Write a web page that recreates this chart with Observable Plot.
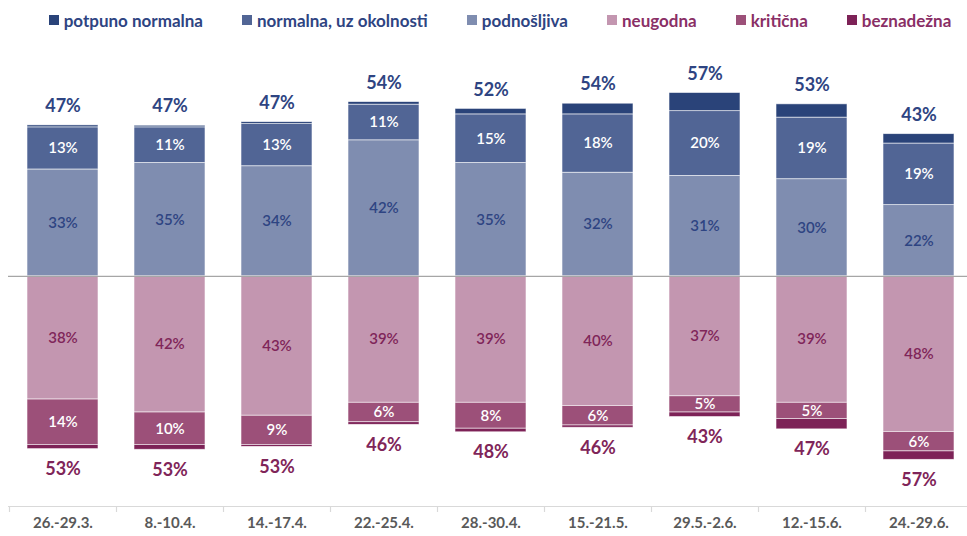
<!DOCTYPE html>
<html>
<head>
<meta charset="utf-8">
<script src="https://cdn.jsdelivr.net/npm/d3@7"></script>
<script src="https://cdn.jsdelivr.net/npm/@observablehq/plot@0.6"></script>
<style>
  body { margin: 0; background: #fff; }
  #legend { height: 40px; display: flex; align-items: center; justify-content: center; gap: 39px; font: bold 17px Lato, sans-serif; padding-left: 33px; box-sizing: border-box; width: 967px; }
  #legend span { display: inline-flex; align-items: center; white-space: nowrap; }
  #legend i { display: inline-block; width: 10px; height: 10px; margin-right: 5px; }
</style>
</head>
<body>
<div id="legend"></div>
<div id="chart"></div>
<script>
const periods = ["26.-29.3.", "8.-10.4.", "14.-17.4.", "22.-25.4.", "28.-30.4.", "15.-21.5.", "29.5.-2.6.", "12.-15.6.", "24.-29.6."];
const seriesNames = ["potpuno normalna", "normalna, uz okolnosti", "podnošljiva", "neugodna", "kritična", "beznadežna"];
const seriesColors = ["#2a4379", "#516595", "#7f8db0", "#c396b0", "#9c5079", "#7d2257"];
const legendTextColors = ["#2e4482", "#2e4482", "#2e4482", "#8a2f66", "#8a2f66", "#8a2f66"];

const potpuno     = [0.6, 0.5, 0.6, 0.8, 1.7, 3.3, 5.6, 4.1, 2.9];
const normalna    = [13, 11, 13, 11, 15, 18, 20, 19, 19];
const podnosljiva = [33, 35, 34, 42, 35, 32, 31, 30, 22];
const neugodna    = [38, 42, 43, 39, 39, 40, 37, 39, 48];
const kriticna    = [14, 10, 9, 6, 8, 6, 5, 5, 6];
const beznadezna  = [1.3, 1.5, 0.6, 0.8, 1.1, 0.7, 1.4, 3.2, 2.6];

const totalPos = [47, 47, 47, 54, 52, 54, 57, 53, 43];
const totalNeg = [53, 53, 53, 46, 48, 46, 43, 47, 57];

// legend
const legend = document.getElementById("legend");
seriesNames.forEach((n, i) => {
  const s = document.createElement("span");
  s.style.color = legendTextColors[i];
  s.innerHTML = `<i style="background:${seriesColors[i]}"></i>${n}`;
  legend.appendChild(s);
});

// long table: stacking order outward from zero
const rows = [];
periods.forEach((p, i) => {
  rows.push({period: p, series: "podnošljiva", v: podnosljiva[i], label: podnosljiva[i]});
  rows.push({period: p, series: "normalna, uz okolnosti", v: normalna[i], label: normalna[i]});
  rows.push({period: p, series: "potpuno normalna", v: potpuno[i], label: null});
  rows.push({period: p, series: "neugodna", v: -neugodna[i], label: neugodna[i]});
  rows.push({period: p, series: "kritična", v: -kriticna[i], label: kriticna[i]});
  rows.push({period: p, series: "beznadežna", v: -beznadezna[i], label: null});
});
const totals = periods.map((p, i) => ({
  period: p,
  pos: podnosljiva[i] + normalna[i] + potpuno[i],
  neg: -(neugodna[i] + kriticna[i] + beznadezna[i]),
  posLabel: totalPos[i] + "%",
  negLabel: totalNeg[i] + "%"
}));

const W = 967;
const xRange = [8.8, 971.8];
const step = (xRange[1] - xRange[0]) / periods.length;
const yMin = -71;
const tickLen = 6 / 3.24;

const labelFor = (names) => d => names.includes(d.series) && d.label != null ? d.label + "%" : null;

const chart = Plot.plot({
  width: W,
  height: 496,
  marginTop: 0,
  marginBottom: 30,
  marginLeft: 8,
  marginRight: 0,
  style: {fontFamily: "Lato, sans-serif", fontSize: "15px", fontWeight: "bold", color: "#595959", background: "white"},
  x: {domain: periods, range: xRange, paddingInner: 0.334, paddingOuter: 0.167, tickSize: 0, tickPadding: 11, label: null},
  y: {domain: [yMin, 72.8], axis: null},
  color: {domain: seriesNames, range: seriesColors, legend: false},
  marks: [
    Plot.ruleY([yMin], {stroke: "#d9d9d9", strokeWidth: 1.2}),
    Plot.ruleX(periods, {x: d => d, dx: -step / 2, y1: yMin, y2: yMin - tickLen, stroke: "#d9d9d9", strokeWidth: 1.2}),
    Plot.barY(rows, Plot.stackY({x: "period", y: "v", fill: "series", stroke: "white", strokeWidth: 0.8, strokeOpacity: 0.7})),
    Plot.ruleY([0], {stroke: "#a6a6a6", strokeWidth: 1.2}),
    Plot.text(rows, Plot.stackY({x: "period", y: "v", text: labelFor(["podnošljiva"]), fill: "#2e4482", fontSize: 15, fontWeight: "600"})),
    Plot.text(rows, Plot.stackY({x: "period", y: "v", text: labelFor(["neugodna"]), fill: "#7f2559", fontSize: 15, fontWeight: "600"})),
    Plot.text(rows, Plot.stackY({x: "period", y: "v", text: labelFor(["normalna, uz okolnosti", "kritična"]), fill: "white", fontSize: 15, fontWeight: "600"})),
    Plot.text(totals, {x: "period", y: "pos", text: "posLabel", dy: -19, fill: "#2e4482", fontSize: 18, fontWeight: "bold"}),
    Plot.text(totals, {x: "period", y: "neg", text: "negLabel", dy: 20, fill: "#7f2559", fontSize: 18, fontWeight: "bold"})
  ]
});
document.getElementById("chart").appendChild(chart);
</script>
</body>
</html>
